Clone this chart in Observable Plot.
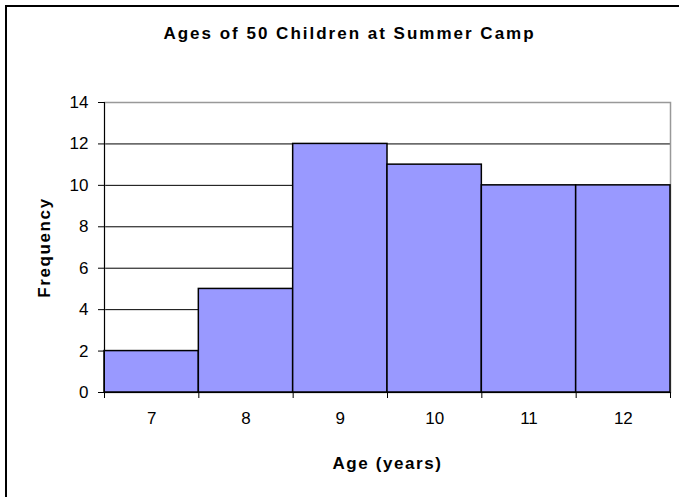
<!DOCTYPE html>
<html>
<head>
<meta charset="utf-8">
<script src="https://cdn.jsdelivr.net/npm/d3@7"></script>
<script src="https://cdn.jsdelivr.net/npm/@observablehq/plot@0.6"></script>
<style>
  html, body { margin: 0; padding: 0; background: #fff; }
  #wrap { position: relative; width: 679px; height: 497px; overflow: hidden; }
  #border { position: absolute; left: 5px; top: 5px; right: -10px; bottom: -10px; border-left: 2px solid #000; border-top: 2px solid #000; pointer-events: none; }
  #wrap svg { position: absolute; left: 0; top: 0; }
</style>
</head>
<body>
<div id="wrap"><div id="border"></div></div>
<script>
const title = "Ages of 50 Children at Summer Camp";
const ages = [7, 8, 9, 10, 11, 12];
const frequencies = [2, 5, 12, 11, 10, 10];
const yTicks = [0, 2, 4, 6, 8, 10, 12, 14];
const gridTicks = [2, 4, 6, 8, 10, 12];
const xLabel = "Age (years)";
const yLabel = "Frequency";

const data = ages.map((a, i) => ({age: a, freq: frequencies[i]}));
const edges = [ages[0] - 0.5, ...ages.map(a => a + 0.5)];
const font = "'Liberation Sans', Arial, sans-serif";

const chart = Plot.plot({
  width: 679,
  height: 497,
  marginLeft: 104,
  marginRight: 9,
  marginTop: 102,
  marginBottom: 105,
  style: {fontFamily: font, fontSize: "17px", background: "transparent", overflow: "visible"},
  x: {domain: [edges[0], edges[edges.length - 1]]},
  y: {domain: [0, 14]},
  marks: [
    Plot.gridY(gridTicks, {stroke: "#000", strokeOpacity: 1, strokeWidth: 1}),
    Plot.frame({stroke: "#999", strokeWidth: 1.5}),
    Plot.rectY(data, {x1: d => d.age - 0.5, x2: d => d.age + 0.5, y: "freq", fill: "#9999FF", stroke: "#000", strokeWidth: 1.5}),
    Plot.ruleX([edges[0]], {stroke: "#000", strokeWidth: 1}),
    Plot.ruleY([0], {stroke: "#000", strokeWidth: 1}),
    Plot.axisY({ticks: yTicks, tickSize: 6, tickPadding: 10, fontSize: 17, label: null, stroke: "#000", fill: "#000", tickFormat: d3.format("d"), className: "ylab"}),
    Plot.axisX({ticks: edges, tickSize: 6, tickFormat: () => "", label: null, stroke: "#000"}),
    Plot.axisX({ticks: ages, tickSize: 0, tickPadding: 19, fontSize: 17, label: null, fill: "#000", tickFormat: d3.format("d"), className: "xlab"}),
    Plot.text([xLabel], {frameAnchor: "bottom", lineAnchor: "middle", textAnchor: "middle", dy: 71, fontSize: 17, fontWeight: "bold", fill: "#000", className: "spaced"}),
    Plot.text([yLabel], {frameAnchor: "left", lineAnchor: "middle", textAnchor: "middle", dx: -60, rotate: -90, fontSize: 17, fontWeight: "bold", fill: "#000", className: "spaced"}),
    Plot.text([title], {frameAnchor: "top", lineAnchor: "middle", textAnchor: "middle", dy: -69, dx: -38, fontSize: 17, fontWeight: "bold", fill: "#000", className: "spacedTitle"})
  ]
});
const svg = d3.select(chart);
svg.selectAll('g[aria-label="y-axis tick label"], g[aria-label="x-axis tick label"]').attr("font-size", 17);
svg.selectAll(".spaced text").attr("letter-spacing", "1.6px");
svg.selectAll(".spacedTitle text").attr("letter-spacing", "2px");
document.getElementById("wrap").appendChild(chart);
</script>
</body>
</html>
